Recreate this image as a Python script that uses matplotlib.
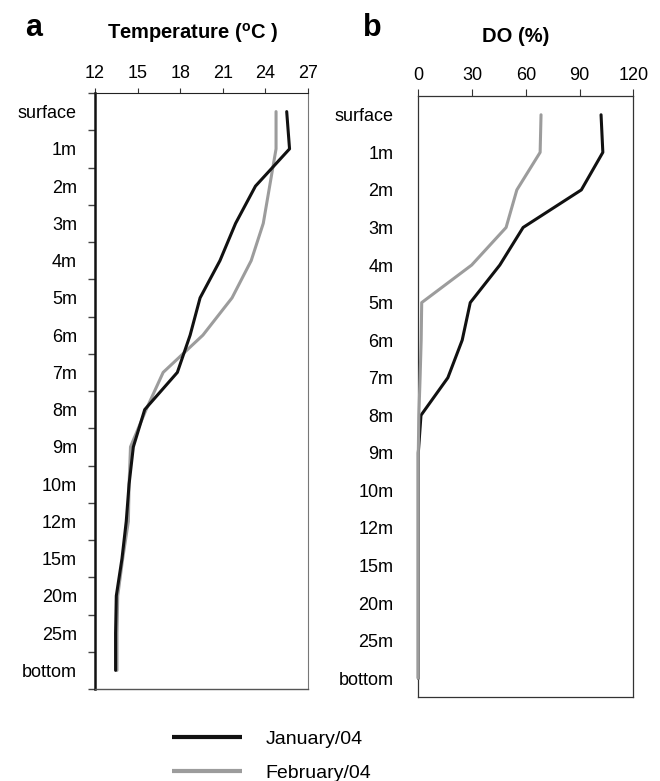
import matplotlib
matplotlib.use('Agg')
import matplotlib.pyplot as plt
from matplotlib.ticker import FixedLocator

plt.rcParams['font.family'] = ['Liberation Sans', 'DejaVu Sans']
plt.rcParams['mathtext.fontset'] = 'custom'
plt.rcParams['mathtext.rm'] = 'Liberation Sans'
plt.rcParams['mathtext.bf'] = 'Liberation Sans:bold'

depths = ['surface', '1m', '2m', '3m', '4m', '5m', '6m', '7m', '8m', '9m',
          '10m', '12m', '15m', '20m', '25m', 'bottom']

# temperature (oC)
jan_temp = [25.5, 25.7, 23.3, 21.9, 20.8, 19.4, 18.7, 17.8, 15.5, 14.7,
            14.4, 14.2, 13.9, 13.5, 13.45, 13.45]
feb_temp = [24.75, 24.75, 24.3, 23.85, 23.0, 21.65, 19.6, 16.8, 15.6, 14.5,
            14.4, 14.35, 13.95, 13.6, 13.55, 13.55]

# dissolved oxygen (%)
jan_do = [102, 103, 91, 58.5, 45.5, 29, 24.5, 16.5, 1.5, 0,
          0, 0, 0, 0, 0, 0]
feb_do = [68.5, 68, 55, 49, 29.8, 1.9, 1.6, 1.0, 0.3, 0,
          0, 0, 0, 0, 0, 0]

temp_ticks = [12, 15, 18, 21, 24, 27]
do_ticks = [0, 30, 60, 90, 120]

BLACK = '#111111'
GRAY = '#9c9c9c'
W, H = 660, 781
FS = 13


def setup_axis(ax, ticks, lim, tick_len):
    ax.set_xlim(*lim)
    ax.set_ylim(len(depths) - 0.5, -0.5)
    ax.xaxis.tick_top()
    ax.set_xticks(ticks)
    ax.tick_params(axis='x', direction='out', length=tick_len, width=0.8,
                   color='#333333', labelsize=FS, pad=4)
    ax.set_yticks(range(len(depths)))
    ax.set_yticklabels(depths)
    ax.tick_params(axis='y', length=0, labelsize=FS)


fig = plt.figure(figsize=(W / 100, H / 100), dpi=100)
ys = list(range(len(depths)))

# panel a: temperature
ax1 = fig.add_axes([95 / W, 1 - 689 / H, 213 / W, 596 / H])
setup_axis(ax1, temp_ticks, (12, 27), 3.6)
ax1.yaxis.set_minor_locator(FixedLocator([i - 0.5 for i in range(len(depths) + 1)]))
ax1.tick_params(axis='y', which='minor', direction='out', length=5, width=1,
                color='#444444')
ax1.tick_params(axis='y', which='major', pad=13)
ax1.plot(feb_temp, ys, color=GRAY, lw=2.2, solid_joinstyle='round',
         solid_capstyle='round', label='February/04')
ax1.plot(jan_temp, ys, color=BLACK, lw=2.2, solid_joinstyle='round',
         solid_capstyle='round', label='January/04')
ax1.spines['left'].set_linewidth(1.8)
ax1.spines['left'].set_color('#111111')
ax1.spines['top'].set_linewidth(0.8)
ax1.spines['top'].set_color('#222222')
ax1.spines['right'].set_linewidth(0.8)
ax1.spines['right'].set_color('#777777')
ax1.spines['bottom'].set_linewidth(1.0)
ax1.spines['bottom'].set_color('#555555')

# panel b: dissolved oxygen (grey drawn over black, as in the original)
ax2 = fig.add_axes([418.3 / W, 1 - 697 / H, 215 / W, 601 / H])
setup_axis(ax2, do_ticks, (0, 120), 5)
ax2.tick_params(axis='y', pad=18)
ax2.plot(jan_do, ys, color=BLACK, lw=2.2, solid_joinstyle='round',
         solid_capstyle='round', clip_on=False, zorder=3)
ax2.plot(feb_do, ys, color=GRAY, lw=2.2, solid_joinstyle='round',
         solid_capstyle='round', clip_on=False, zorder=4)
for side in ['left', 'right', 'top', 'bottom']:
    ax2.spines[side].set_linewidth(0.9)
    ax2.spines[side].set_color('#333333')

# titles and panel letters
fig.text(193 / W, 1 - 39 / H, r'Temperature ($^{\mathbf{o}}$C )',
         fontsize=14.5, fontweight='bold', ha='center', va='baseline')
fig.text(516 / W, 1 - 42 / H, 'DO (%)', fontsize=14.5, fontweight='bold',
         ha='center', va='baseline')
fig.text(34 / W, 1 - 36 / H, 'a', fontsize=22, fontweight='bold',
         ha='center', va='baseline')
fig.text(372 / W, 1 - 36 / H, 'b', fontsize=22, fontweight='bold',
         ha='center', va='baseline')

# legend
handles, labels = ax1.get_legend_handles_labels()
leg = fig.legend(handles[::-1], labels[::-1], loc='upper left',
                 bbox_to_anchor=(172 / W, 1 - 730 / H), frameon=False,
                 fontsize=14, handlelength=3.6, handletextpad=1.2,
                 labelspacing=0.85, borderpad=0, borderaxespad=0)
for line in leg.get_lines():
    line.set_linewidth(3)
    line.set_solid_capstyle('butt')

fig.savefig('out.png', dpi=100)
